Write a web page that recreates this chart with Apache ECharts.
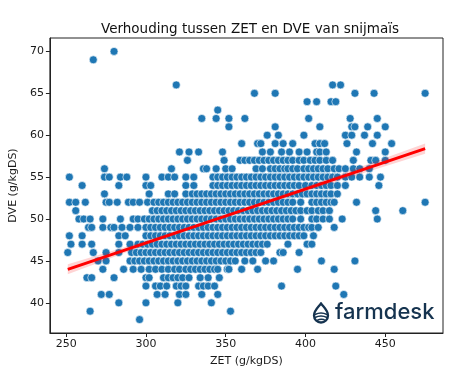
<!DOCTYPE html>
<html>
<head>
    <meta charset="utf-8">
    <script src="https://cdn.jsdelivr.net/npm/echarts@6/dist/echarts.min.js"></script>
    <style>
        html, body { margin: 0; padding: 0; background: #fff; }
    </style>
</head>
<body>
<div id="main" style="width: 455px;height:375px;"></div>

<script type="text/javascript">
    // DVE-niveaus (g/kgDS) en de bijbehorende ZET-waarden per niveau
    var dveLevels = [70, 69, 66, 65, 64, 63, 62, 61, 60, 59, 58, 57, 56, 55, 54, 53, 52, 51, 50, 49, 48, 47, 46, 45, 44, 43, 42, 41, 40, 39, 38];
    var zetPerLevel = [
        [280],
        [267],
        [319, 417, 422],
        [368, 381, 431, 443, 475],
        [401, 407, 416, 419],
        [345],
        [335, 344, 352, 362, 402, 428, 445],
        [352, 381, 409, 429, 431, 439, 450],
        [376, 383, 399, 425, 429, 437, 445],
        [360, 370, 372, 381, 386, 392, 406, 409, 412, 426, 442, 454],
        [321, 327, 333, 348, 373, 378, 385, 390, 396, 401, 407, 409, 413, 432, 450],
        [326, 349, 359, 362, 365, 368, 371, 374, 377, 380, 383, 386, 389, 392, 396, 399, 403, 406, 409, 413, 417, 430, 441, 444, 450],
        [274, 316, 336, 338, 344, 350, 354, 369, 373, 378, 381, 384, 387, 389, 392, 395, 399, 402, 405, 408, 411, 414, 418, 421, 425, 430, 434, 440],
        [252, 274, 277, 284, 288, 300, 310, 314, 318, 325, 330, 342, 345, 348, 351, 354, 357, 360, 363, 366, 369, 372, 375, 378, 381, 384, 387, 390, 393, 396, 399, 402, 405, 408, 411, 414, 417, 420, 425, 429, 434, 440, 447],
        [260, 283, 300, 303, 325, 330, 342, 345, 348, 351, 354, 357, 360, 363, 366, 369, 372, 375, 378, 381, 384, 387, 390, 393, 396, 400, 404, 407, 410, 413, 416, 420, 425, 446],
        [274, 302, 314, 318, 325, 329, 332, 335, 338, 341, 344, 347, 350, 353, 356, 359, 362, 365, 368, 371, 374, 377, 380, 383, 386, 389, 392, 395, 398, 401, 404, 407, 410, 413, 416, 420],
        [252, 256, 262, 275, 277, 282, 289, 292, 296, 301, 305, 308, 311, 314, 317, 320, 323, 326, 329, 332, 335, 338, 341, 344, 347, 350, 353, 356, 359, 362, 365, 368, 371, 374, 377, 380, 383, 386, 389, 392, 397, 404, 407, 410, 413, 416, 418, 432, 475],
        [256, 304, 307, 310, 313, 316, 319, 322, 325, 328, 331, 334, 337, 340, 343, 346, 349, 352, 355, 358, 361, 364, 367, 370, 373, 376, 379, 382, 385, 388, 391, 394, 397, 401, 404, 408, 411, 415, 444, 461],
        [258, 261, 265, 273, 284, 292, 295, 299, 302, 305, 308, 311, 314, 317, 320, 323, 326, 329, 332, 335, 338, 341, 344, 347, 350, 353, 356, 359, 362, 365, 368, 371, 374, 377, 380, 383, 386, 389, 392, 397, 404, 407, 411, 415, 423, 445],
        [264, 266, 273, 278, 280, 285, 290, 295, 300, 303, 306, 309, 312, 315, 318, 321, 324, 327, 330, 333, 336, 339, 342, 345, 348, 351, 354, 357, 360, 363, 366, 369, 372, 375, 378, 381, 384, 387, 390, 393, 396, 399, 402, 404, 408, 418],
        [252, 260, 283, 287, 300, 303, 306, 309, 312, 315, 318, 321, 324, 327, 330, 333, 336, 339, 342, 345, 348, 351, 354, 357, 360, 363, 366, 369, 372, 375, 378, 381, 384, 387, 390, 393, 396, 399, 405],
        [253, 260, 266, 283, 290, 295, 298, 301, 304, 307, 310, 313, 316, 319, 322, 325, 328, 331, 334, 337, 340, 343, 346, 349, 352, 355, 358, 361, 364, 367, 370, 373, 376, 389, 401, 404],
        [251, 267, 275, 283, 291, 294, 297, 300, 303, 306, 309, 312, 315, 318, 321, 324, 327, 330, 333, 336, 339, 342, 345, 348, 351, 354, 357, 360, 363, 366, 369, 372, 384, 386, 396],
        [270, 275, 290, 293, 296, 299, 302, 305, 308, 311, 314, 317, 320, 323, 326, 329, 332, 335, 338, 341, 344, 347, 350, 353, 356, 362, 367, 375, 380, 410, 431],
        [273, 286, 292, 297, 302, 306, 310, 314, 318, 321, 325, 328, 331, 334, 337, 340, 343, 345, 351, 352, 360, 370, 395, 418],
        [263, 266, 280, 300, 302, 311, 314, 317, 320, 323, 327, 334, 339, 346],
        [300, 306, 309, 313, 319, 322, 325, 333, 336, 339, 343, 385, 419],
        [272, 277, 307, 312, 321, 325, 335, 345, 424],
        [283, 300, 320, 341],
        [265, 353],
        [296]
    ];

    // regressielijn + betrouwbaarheidsband
    var regX = [251, 475];
    var regY = [44.0, 58.4];
    var bandX = [251, 300, 350, 400, 475];
    var bandLo = [43.4, 46.9, 50.2, 53.3, 57.8];
    var bandHi = [44.6, 47.4, 50.55, 53.85, 59.0];

    var xTicks = [250, 300, 350, 400, 450];
    var yTicks = [40, 45, 50, 55, 60, 65, 70];

    var points = [];
    for (var i = 0; i < dveLevels.length; i++) {
        for (var j = 0; j < zetPerLevel[i].length; j++) {
            points.push([zetPerLevel[i][j], dveLevels[i]]);
        }
    }

    var bandData = bandX.map(function (x, k) { return [x, bandLo[k], bandHi[k]]; });

    // farmdesk-druppel als klein svg-plaatje
    var logoSvg = '<svg xmlns="http://www.w3.org/2000/svg" width="18" height="22" viewBox="0 0 18 22">' +
        '<g fill="none" stroke="#15334f" stroke-linecap="round">' +
        '<path d="M9,1.5 C6,5.5 2,8.5 2,13.5 A7,7 0 0,0 16,13.5 C16,8.5 12,5.5 9,1.5 Z" stroke-width="2.3"/>' +
        '<path d="M3,12.5 C7,10.5 11,10.5 15,12.5" stroke-width="1.5"/>' +
        '<path d="M3,15.5 C7,13.5 11,13.5 15,15.5" stroke-width="1.5"/>' +
        '<path d="M5,18.5 C8,16.8 11,16.8 13.5,18.5" stroke-width="1.5"/>' +
        '</g></svg>';

    var myChart = echarts.init(document.getElementById('main'));

    var axisFont = { fontFamily: 'DejaVu Sans', fontSize: 11, color: '#1a1a1a' };

    var option = {
        animation: false,
        title: {
            text: 'Verhouding tussen ZET en DVE van snijmaïs',
            left: 245,
            top: 17,
            textAlign: 'center',
            textStyle: { fontFamily: 'DejaVu Sans', fontSize: 13.5, fontWeight: 'normal', color: '#111' }
        },
        grid: {
            left: 47, right: 12, top: 38, bottom: 42,
            show: true, borderColor: '#222', borderWidth: 1
        },
        xAxis: {
            type: 'value', min: 239.8, max: 486.2,
            name: 'ZET (g/kgDS)', nameLocation: 'middle', nameGap: 23,
            nameTextStyle: axisFont,
            axisLine: { lineStyle: { color: '#222' } },
            axisTick: { show: true, length: 4, lineStyle: { color: '#222' }, customValues: xTicks },
            axisLabel: Object.assign({ margin: 6, customValues: xTicks }, axisFont),
            splitLine: { show: false }
        },
        yAxis: {
            type: 'value', min: 36.4, max: 71.6,
            name: 'DVE (g/kgDS)', nameLocation: 'middle', nameGap: 28,
            nameTextStyle: axisFont,
            axisLine: { show: true, lineStyle: { color: '#222' } },
            axisTick: { show: true, length: 4, lineStyle: { color: '#222' }, customValues: yTicks },
            axisLabel: Object.assign({ margin: 6, customValues: yTicks }, axisFont),
            splitLine: { show: false }
        },
        series: [
            {
                type: 'scatter',
                data: points,
                symbolSize: 8,
                itemStyle: { color: '#1f77b4', borderColor: '#ffffff', borderWidth: 0.6, opacity: 1 },
                z: 2
            },
            {
                type: 'custom',
                data: bandData,
                encode: { x: 0, y: [1, 2] },
                z: 3,
                renderItem: function (params, api) {
                    if (params.dataIndex !== 0) return;
                    var pts = [];
                    for (var k = 0; k < bandData.length; k++) pts.push(api.coord([bandData[k][0], bandData[k][2]]));
                    for (var k2 = bandData.length - 1; k2 >= 0; k2--) pts.push(api.coord([bandData[k2][0], bandData[k2][1]]));
                    return { type: 'polygon', shape: { points: pts }, style: { fill: 'rgba(255,0,0,0.17)' } };
                }
            },
            {
                type: 'line',
                data: regX.map(function (x, k) { return [x, regY[k]]; }),
                symbol: 'none',
                lineStyle: { color: '#ff0000', width: 3 },
                z: 4
            }
        ],
        graphic: [
            {
                type: 'image', left: 312, top: 302, z: 10,
                style: { image: 'data:image/svg+xml;charset=utf-8,' + encodeURIComponent(logoSvg), width: 18, height: 22 }
            },
            {
                type: 'text', left: 335, top: 301, z: 10,
                style: { text: 'farmdesk', fill: '#15334f', font: '500 22px Inter' }
            }
        ]
    };

    myChart.setOption(option);
</script>

</body>
</html>
